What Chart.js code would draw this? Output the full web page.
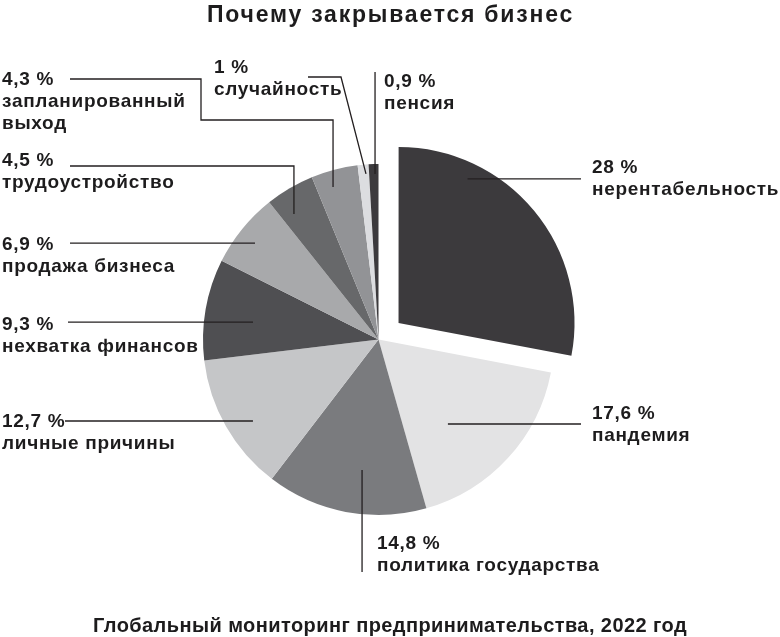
<!DOCTYPE html>
<html lang="ru">
<head>
<meta charset="utf-8">
<title>Почему закрывается бизнес</title>
<script src="https://cdn.jsdelivr.net/npm/chart.js@4.4.1/dist/chart.umd.min.js"></script>
<style>
  html, body { margin: 0; padding: 0; background: #fff; }
  #wrap { position: relative; width: 780px; height: 637px; }
</style>
</head>
<body>
<div id="wrap"><canvas id="closure-chart"></canvas></div>
<script>
// Chart data (clockwise from 12 o'clock)
const reasons = ['нерентабельность', 'пандемия', 'политика государства', 'личные причины', 'нехватка финансов',
  'продажа бизнеса', 'трудоустройство', 'запланированный\nвыход', 'случайность', 'пенсия'];
const shares = [28, 17.6, 14.8, 12.7, 9.3, 6.9, 4.5, 4.3, 1, 0.9];
const shareLabels = ['28 %', '17,6 %', '14,8 %', '12,7 %', '9,3 %', '6,9 %', '4,5 %', '4,3 %', '1 %', '0,9 %'];
const sliceColors = ['#3c3a3d', '#e3e3e4', '#7a7b7e', '#c5c6c8', '#4f4f52',
  '#a8a9ab', '#67686a', '#929396', '#dcdde0', '#3c3a3d'];

const chartTitle = 'Почему закрывается бизнес';
const chartSource = 'Глобальный мониторинг предпринимательства, 2022 год';

// Label placement: text position, where the leader starts inside the slice
// (fraction of the slice angle / of the radius) and how it runs to the text
const labelLayout = [
  { x: 592, y: 173, f: 0.254, r: 0.91, path: [['H', 581]] },
  { x: 592, y: 419, f: 0.628, r: 0.623, path: [['H', 581]] },
  { x: 377, y: 549, f: 0.432, r: 0.75, path: [['V', 572]] },
  { x: 2, y: 427, f: 0.428, r: 0.853, path: [['H', 65]] },
  { x: 2, y: 330, f: 0.44, r: 0.722, path: [['H', 68]] },
  { x: 2, y: 250, f: 0.457, r: 0.893, path: [['H', 70]] },
  { x: 2, y: 166, f: 0.28, r: 0.862, path: [['V', 166], ['H', 70]] },
  { x: 2, y: 85, f: 0.37, r: 0.907, path: [['V', 120], ['H', 201], ['V', 79], ['H', 70]] },
  { x: 214, y: 73, f: 0.7, r: 0.946, path: [['L', 341, 77], ['H', 308]] },
  { x: 384, y: 87, f: 0.63, r: 0.943, path: [['V', 72]] }
];

// Draw text spread out to a given width (letter spacing)
function fillSpread(ctx, text, x, y, width) {
  ctx.letterSpacing = '0px';
  const plain = ctx.measureText(text).width;
  ctx.letterSpacing = ((width - plain) / text.length) + 'px';
  ctx.fillText(text, x, y);
}

// Draws title, source line, leader lines and slice labels
const calloutPlugin = {
  id: 'callouts',
  afterDraw(chart) {
    const ctx = chart.ctx;
    const meta = chart.getDatasetMeta(0);
    ctx.save();
    ctx.fillStyle = '#1d1c1d';
    ctx.strokeStyle = '#231f20';
    ctx.lineWidth = 1.3;
    ctx.textAlign = 'left';
    ctx.textBaseline = 'alphabetic';

    // Title and source
    ctx.font = 'bold 23px "Liberation Sans"';
    fillSpread(ctx, chartTitle, 207, 22, 367);
    ctx.font = 'bold 20px "Liberation Sans"';
    fillSpread(ctx, chartSource, 93, 632, 594);
    ctx.letterSpacing = '0px';

    // Leader lines
    meta.data.forEach((arc, i) => {
      const lay = labelLayout[i];
      const p = arc.getProps(['x', 'y', 'startAngle', 'endAngle', 'outerRadius'], true);
      const mid = (p.startAngle + p.endAngle) / 2;
      const shift = (arc.options.offset || 0) / 4;
      const cx = p.x + Math.cos(mid) * shift;
      const cy = p.y + Math.sin(mid) * shift;
      const a = p.startAngle + (p.endAngle - p.startAngle) * lay.f;
      let px = cx + Math.cos(a) * p.outerRadius * lay.r;
      let py = cy + Math.sin(a) * p.outerRadius * lay.r;
      ctx.beginPath();
      ctx.moveTo(px, py);
      lay.path.forEach(step => {
        if (step[0] === 'H') px = step[1];
        else if (step[0] === 'V') py = step[1];
        else { px = step[1]; py = step[2]; }
        ctx.lineTo(px, py);
      });
      ctx.stroke();
    });

    // Labels
    ctx.font = 'bold 19px "Liberation Sans"';
    ctx.letterSpacing = '0.7px';
    labelLayout.forEach((lay, i) => {
      ctx.fillText(shareLabels[i], lay.x, lay.y);
      reasons[i].split('\n').forEach((line, k) => {
        ctx.fillText(line, lay.x, lay.y + 22 * (k + 1));
      });
    });
    ctx.restore();
  }
};

const chartCanvas = document.getElementById('closure-chart');
new Chart(chartCanvas, {
  type: 'pie',
  data: {
    labels: reasons,
    datasets: [{
      data: shares,
      backgroundColor: sliceColors,
      borderWidth: 0,
      offset: shares.map((v, i) => i === 0 ? 104 : 0),
      hoverOffset: 0,
      radius: 175.5
    }]
  },
  options: {
    responsive: true,
    maintainAspectRatio: false,
    animation: false,
    layout: {
      padding: { left: 0, right: 23, top: 62, bottom: 20 }
    },
    plugins: {
      legend: { display: false },
      tooltip: { enabled: false }
    }
  },
  plugins: [calloutPlugin]
});
</script>
</body>
</html>
